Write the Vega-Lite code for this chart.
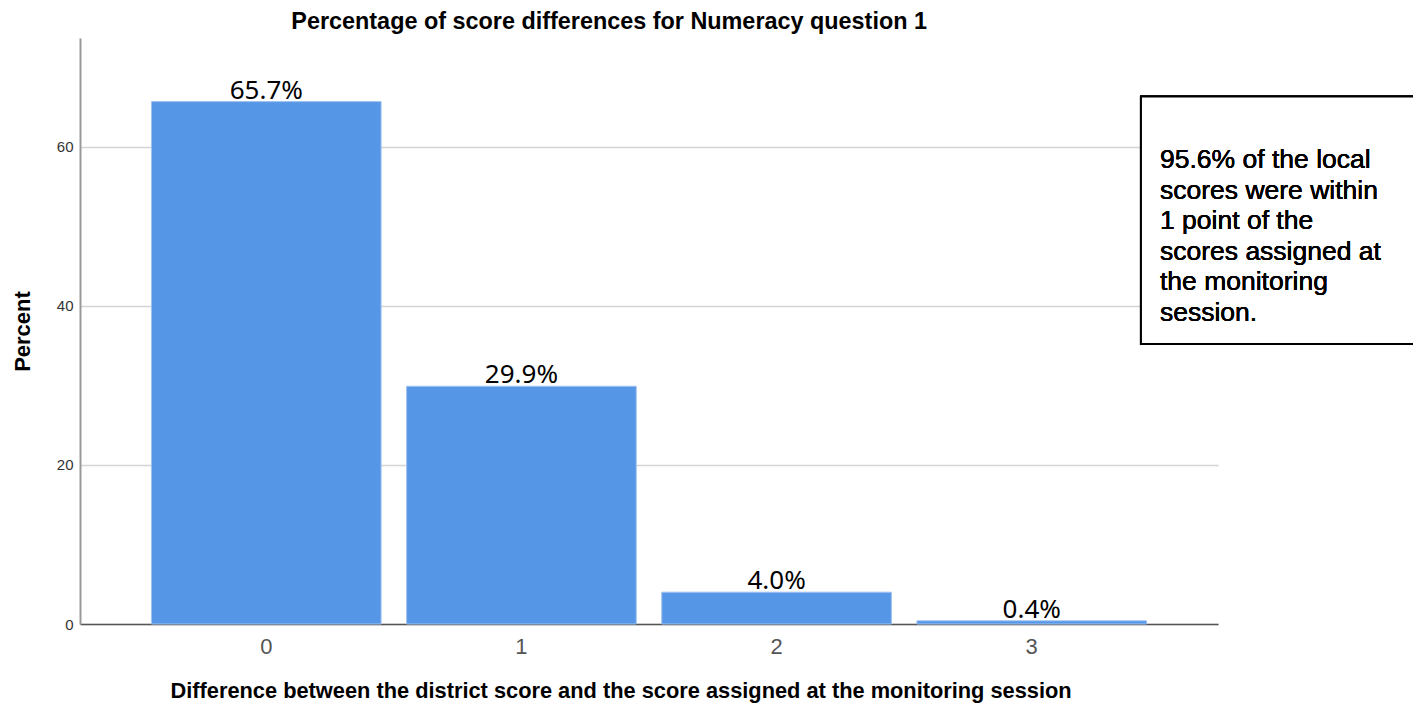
{
  "$schema": "https://vega.github.io/schema/vega-lite/v6.json",
  "width": 1138,
  "height": 586,
  "autosize": {"type": "none"},
  "padding": {"left": 80, "top": 38, "right": 195, "bottom": 82},
  "background": "white",
  "config": {"view": {"stroke": null}, "font": "Liberation Sans"},
  "title": {
    "text": "Percentage of score differences for Numeracy question 1",
    "anchor": "start",
    "dx": 280,
    "offset": 4,
    "fontSize": 23.4,
    "fontWeight": "bold",
    "font": "Liberation Sans",
    "color": "#000000"
  },
  "data": {
    "values": [
      {"difference": "0", "percent": 65.7, "label": "65.7%"},
      {"difference": "1", "percent": 29.9, "label": "29.9%"},
      {"difference": "2", "percent": 4.0, "label": "4.0%"},
      {"difference": "3", "percent": 0.4, "label": "0.4%"}
    ]
  },
  "layer": [
    {
      "encoding": {
        "x": {
          "field": "difference",
          "type": "nominal",
          "sort": null,
          "scale": {"paddingInner": 0.1, "paddingOuter": 0.28},
          "axis": {
            "labelAngle": 0,
            "labelFontSize": 22,
            "labelColor": "#555555",
            "labelPadding": 12,
            "ticks": false,
            "domainColor": "#555555",
            "domainWidth": 1.5,
            "title": "Difference between the district score and the score assigned at the monitoring session",
            "titleFontSize": 21.8,
            "titleFontWeight": "bold",
            "titleColor": "#000000",
            "titleAnchor": "start",
            "titleAlign": "left",
            "titleBaseline": "alphabetic",
            "titleX": 90,
            "titleY": 73
          }
        },
        "y": {
          "field": "percent",
          "type": "quantitative",
          "scale": {"domain": [0, 73.7], "nice": false},
          "axis": {
            "values": [0, 20, 40, 60],
            "grid": true,
            "gridColor": "#d4d4d4",
            "gridWidth": 1.5,
            "ticks": false,
            "domainColor": "#999999",
            "domainWidth": 2,
            "labelFontSize": 15,
            "labelColor": "#333333",
            "labelPadding": 7,
            "title": "Percent",
            "titleFontSize": 22,
            "titleFontWeight": "bold",
            "titleColor": "#000000",
            "titlePadding": 22
          }
        }
      },
      "layer": [
        {
          "mark": {"type": "bar", "color": "#5596e6", "stroke": "#9fc2ef", "strokeWidth": 1}
        },
        {
          "mark": {"type": "text", "baseline": "alphabetic", "dy": -3, "fontSize": 26, "font": "Noto Sans", "color": "#000000"},
          "encoding": {
            "text": {"field": "label"}
          }
        }
      ]
    },
    {
      "layer": [
        {
          "mark": {"type": "rect", "fill": "white", "stroke": "black", "strokeWidth": 2},
          "encoding": {
            "x": {"datum": 0.9323, "type": "quantitative", "scale": {"domain": [0, 1], "nice": false, "zero": false}, "axis": null},
            "x2": {"datum": 1.3},
            "y": {"datum": 66.35, "type": "quantitative"},
            "y2": {"datum": 35.22}
          }
        },
        {
          "mark": {"type": "text", "align": "left", "baseline": "alphabetic", "fontSize": 26.5, "lineHeight": 30.6, "font": "Liberation Sans", "color": "#000000"},
          "encoding": {
            "x": {"datum": 0.949, "type": "quantitative", "scale": {"domain": [0, 1], "nice": false, "zero": false}, "axis": null},
            "y": {"datum": 57.36, "type": "quantitative"},
            "text": {"value": ["95.6% of the local", "scores were within", "1 point of the", "scores assigned at", "the monitoring", "session."]}
          }
        }
      ]
    }
  ],
  "resolve": {"scale": {"x": "independent"}}
}
